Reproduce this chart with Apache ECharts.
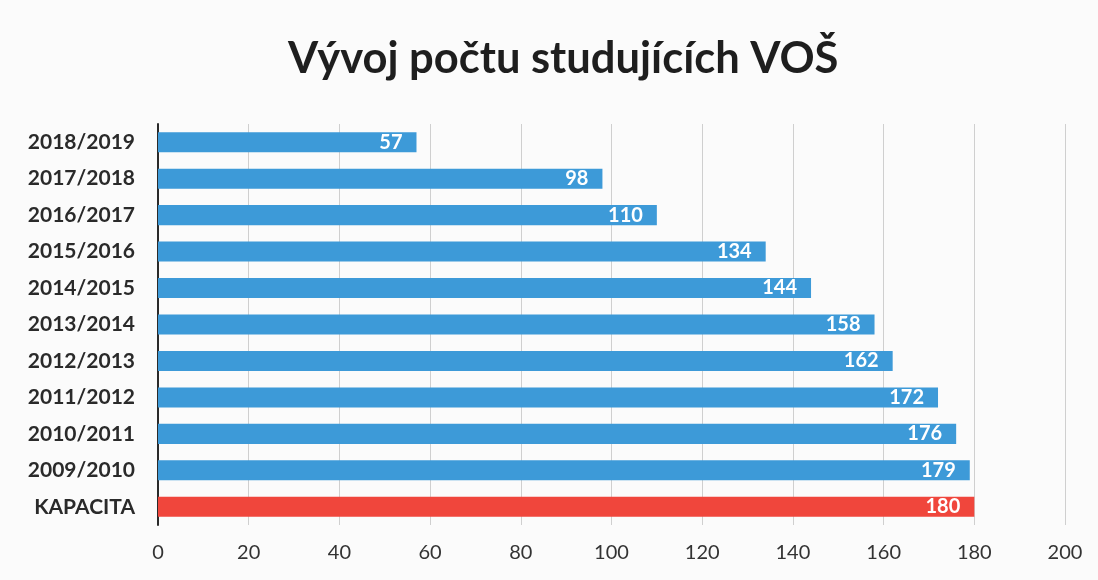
<!DOCTYPE html>
<html>
<head>
<meta charset="utf-8">
<script src="https://cdn.jsdelivr.net/npm/echarts@6/dist/echarts.min.js"></script>
<style>
  html, body { margin: 0; padding: 0; background: #fbfbfb; }
  #chart { width: 1098px; height: 580px; }
</style>
</head>
<body>
<div id="chart"></div>
<script>
// kategorie zdola nahoru (tak je kreslí osa category)
const categories = ['KAPACITA', '2009/2010', '2010/2011', '2011/2012', '2012/2013',
  '2013/2014', '2014/2015', '2015/2016', '2016/2017', '2017/2018', '2018/2019'];
const values = [180, 179, 176, 172, 162, 158, 144, 134, 110, 98, 57];
const xTicks = { min: 0, max: 200, interval: 20 };

const blue = '#3d9ad8';
const red = '#f0463c';

const chart = echarts.init(document.getElementById('chart'));

const option = {
  backgroundColor: '#fbfbfb',
  title: {
    text: 'Vývoj počtu studujících VOŠ',
    left: 283,
    top: 32,
    textStyle: {
      fontFamily: 'Lato',
      fontSize: 43.5,
      fontWeight: 'bold',
      color: '#1e1e1e'
    }
  },
  grid: {
    left: 158,
    right: 33,
    top: 124,
    bottom: 55
  },
  xAxis: {
    type: 'value',
    min: xTicks.min,
    max: xTicks.max,
    interval: xTicks.interval,
    axisLine: { show: false },
    axisTick: { show: false },
    splitLine: {
      show: true,
      lineStyle: { color: '#cfcfcf', width: 1 }
    },
    axisLabel: {
      fontFamily: 'Lato',
      fontSize: 20,
      color: '#333',
      margin: 18
    }
  },
  yAxis: {
    type: 'category',
    data: categories,
    axisLine: {
      show: true,
      lineStyle: { color: '#2a2a2a', width: 2 }
    },
    axisTick: { show: false },
    axisLabel: {
      fontFamily: 'Lato',
      fontSize: 21,
      fontWeight: 'bold',
      color: '#2a2a2a',
      margin: 23
    }
  },
  series: [
    {
      type: 'bar',
      data: values.map((v, i) => ({
        value: v,
        itemStyle: { color: categories[i] === 'KAPACITA' ? red : blue }
      })),
      barCategoryGap: '45%',
      label: {
        show: true,
        position: 'insideRight',
        distance: 14,
        color: '#fff',
        fontFamily: 'Lato',
        fontSize: 20,
        fontWeight: 'bold'
      }
    }
  ]
};

chart.setOption(option);
</script>
</body>
</html>
